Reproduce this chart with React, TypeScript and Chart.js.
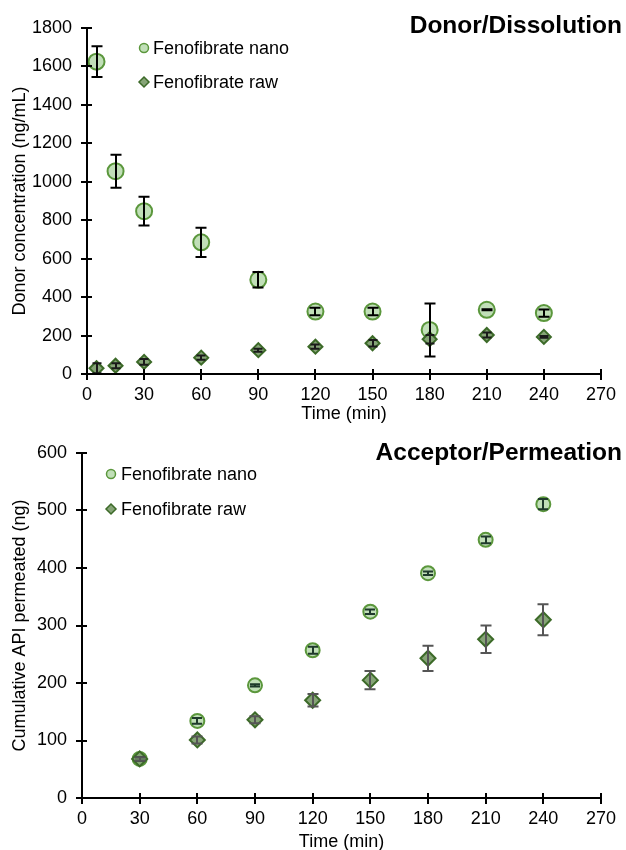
import React, { useEffect, useRef } from "react";
import { Chart, registerables } from "chart.js";

Chart.register(...registerables);

const FONT = "'Liberation Sans', Arial, Helvetica, sans-serif";

// ---- Donor / Dissolution ----
const donorTimes = [5, 15, 30, 60, 90, 120, 150, 180, 210, 240];
const donorNano = [1625, 1055, 847, 685, 490, 325, 325, 229, 334, 317];
const donorNanoErr = [80, 86, 75, 76, 40, 20, 20, 138, 3, 19];
const donorRaw = [30, 43, 63, 85, 124, 142, 160, 181, 203, 193];
const donorRawErr = [26, 13, 15, 11, 8, 11, 17, 22, 13, 5];

// ---- Acceptor / Permeation ----
const accTimes = [30, 60, 90, 120, 150, 180, 210, 240];
const accNano = [68, 134, 196, 257, 324, 391, 449, 511];
const accNanoErr = [3, 5, 2, 6, 4, 3, 6, 9];
const accRaw = [68, 101, 136, 170, 205, 243, 276, 310];
const accRawErr = [3, 6, 6, 11, 16, 22, 24, 27];

const xTickStep = 30;
const xMax = 270;

const seriesNames = ["Fenofibrate nano", "Fenofibrate raw"];

const NANO_FILL = "rgba(182, 217, 172, 0.85)";
const NANO_BORDER = "#5b973c";
const RAW_FILL = "#86a477";
const RAW_BORDER = "#3c6a28";

type Series = {
  x: number[];
  y: number[];
  err: number[];
  style: "circle" | "rectRot";
  radius: number;
  errColor: string;
  cap: number;
};

type Cfg = {
  title: string;
  yTitle: string;
  yMax: number;
  yStep: number;
  left: number;
  right: number;
  xHeight: number;
  top: number;
  yPad: number;
  xPad: number;
  xTitleY: number;
  titleY: number;
  legendX: number;
  legendTextX: number;
  legendY: number[];
  series: Series[];
};

function buildChart(canvas: HTMLCanvasElement, cfg: Cfg) {
  const datasets = cfg.series.map((s, i) => ({
    label: seriesNames[i],
    data: s.x.map((t, j) => ({ x: t, y: s.y[j] })),
    showLine: false,
    pointStyle: s.style,
    pointRadius: s.radius,
    pointBorderWidth: 2,
    pointBackgroundColor: s.style === "circle" ? NANO_FILL : RAW_FILL,
    pointBorderColor: s.style === "circle" ? NANO_BORDER : RAW_BORDER,
    order: s.style === "circle" ? 1 : 0,
  }));

  const custom = {
    id: "custom",
    afterDatasetsDraw(chart: any) {
      const ctx = chart.ctx;
      const xs = chart.scales.x;
      const ys = chart.scales.y;
      cfg.series.forEach((s) => {
        ctx.save();
        ctx.strokeStyle = s.errColor;
        ctx.lineWidth = 2;
        s.x.forEach((t, i) => {
          const px = Math.round(xs.getPixelForValue(t));
          const y1 = ys.getPixelForValue(s.y[i] - s.err[i]);
          const y2 = ys.getPixelForValue(s.y[i] + s.err[i]);
          ctx.beginPath();
          ctx.moveTo(px, y1);
          ctx.lineTo(px, y2);
          ctx.moveTo(px - s.cap, y1);
          ctx.lineTo(px + s.cap, y1);
          ctx.moveTo(px - s.cap, y2);
          ctx.lineTo(px + s.cap, y2);
          ctx.stroke();
        });
        ctx.restore();
      });
    },
    afterDraw(chart: any) {
      const ctx = chart.ctx;
      const { left, right, top, bottom } = chart.chartArea;
      const xs = chart.scales.x;
      const ys = chart.scales.y;
      ctx.save();
      ctx.strokeStyle = "#000";
      ctx.lineWidth = 2;
      ctx.beginPath();
      ctx.moveTo(left, top);
      ctx.lineTo(left, bottom);
      ctx.moveTo(left, bottom);
      ctx.lineTo(right, bottom);
      xs.ticks.forEach((t: any) => {
        const px = Math.round(xs.getPixelForValue(t.value));
        ctx.moveTo(px, bottom - 5);
        ctx.lineTo(px, bottom + 6);
      });
      ys.ticks.forEach((t: any) => {
        const py = Math.round(ys.getPixelForValue(t.value));
        ctx.moveTo(left - 6, py);
        ctx.lineTo(left + 5, py);
      });
      ctx.stroke();

      ctx.fillStyle = "#000";
      // chart title
      ctx.font = `bold 24.5px ${FONT}`;
      ctx.textAlign = "right";
      ctx.textBaseline = "middle";
      ctx.fillText(cfg.title, 622, cfg.titleY);

      // axis titles
      ctx.font = `18px ${FONT}`;
      ctx.textAlign = "center";
      ctx.fillText("Time (min)", (left + right) / 2, cfg.xTitleY);
      ctx.save();
      ctx.translate(20, (top + bottom) / 2);
      ctx.rotate(-Math.PI / 2);
      ctx.fillText(cfg.yTitle, 0, 0);
      ctx.restore();

      // legend
      ctx.font = `18px ${FONT}`;
      ctx.textAlign = "left";
      cfg.series.forEach((s, i) => {
        const cx = cfg.legendX;
        const cy = cfg.legendY[i];
        ctx.lineWidth = 1.5;
        ctx.beginPath();
        if (s.style === "circle") {
          ctx.arc(cx, cy, 4.5, 0, Math.PI * 2);
          ctx.fillStyle = NANO_FILL;
          ctx.strokeStyle = NANO_BORDER;
        } else {
          ctx.moveTo(cx, cy - 5);
          ctx.lineTo(cx + 5, cy);
          ctx.lineTo(cx, cy + 5);
          ctx.lineTo(cx - 5, cy);
          ctx.closePath();
          ctx.fillStyle = RAW_FILL;
          ctx.strokeStyle = RAW_BORDER;
        }
        ctx.fill();
        ctx.stroke();
        ctx.fillStyle = "#000";
        ctx.fillText(seriesNames[i], cfg.legendTextX, cy + 1);
      });
      ctx.restore();
    },
  };

  return new Chart(canvas, {
    type: "scatter",
    data: { datasets: datasets as any },
    options: {
      animation: false,
      responsive: false,
      maintainAspectRatio: false,
      layout: { padding: { top: cfg.top, right: cfg.right, bottom: 0, left: 0 } },
      plugins: {
        legend: { display: false },
        tooltip: { enabled: false },
        title: { display: false },
      },
      scales: {
        x: {
          type: "linear",
          min: 0,
          max: xMax,
          grid: { display: false, drawTicks: false },
          border: { display: false },
          ticks: {
            stepSize: xTickStep,
            color: "#000",
            padding: cfg.xPad,
            maxRotation: 0,
            font: { family: FONT, size: 18 },
            callback: (v: any) => String(v),
          },
          afterFit: (s: any) => {
            s.height = cfg.xHeight;
          },
        },
        y: {
          type: "linear",
          min: 0,
          max: cfg.yMax,
          grid: { display: false, drawTicks: false },
          border: { display: false },
          ticks: {
            stepSize: cfg.yStep,
            color: "#000",
            padding: cfg.yPad,
            font: { family: FONT, size: 18 },
            callback: (v: any) => String(v),
          },
          afterFit: (s: any) => {
            s.width = cfg.left;
          },
        },
      },
    },
    plugins: [custom as any],
  });
}

const topCfg: Cfg = {
  title: "Donor/Dissolution",
  yTitle: "Donor concentration (ng/mL)",
  yMax: 1800,
  yStep: 200,
  left: 87,
  right: 22,
  xHeight: 51,
  top: 28,
  yPad: 15,
  xPad: 10,
  xTitleY: 414,
  titleY: 26,
  legendX: 144,
  legendTextX: 153,
  legendY: [48, 82],
  series: [
    { x: donorTimes, y: donorNano, err: donorNanoErr, style: "circle", radius: 8, errColor: "#000", cap: 5.5 },
    { x: donorTimes, y: donorRaw, err: donorRawErr, style: "rectRot", radius: 7, errColor: "#1a1a1a", cap: 4.5 },
  ],
};

const bottomCfg: Cfg = {
  title: "Acceptor/Permeation",
  yTitle: "Cumulative API permeated (ng)",
  yMax: 600,
  yStep: 100,
  left: 82,
  right: 23,
  xHeight: 52,
  top: 28,
  yPad: 15,
  xPad: 10,
  xTitleY: 417,
  titleY: 28,
  legendX: 111,
  legendTextX: 121,
  legendY: [49, 84],
  series: [
    { x: accTimes, y: accNano, err: accNanoErr, style: "circle", radius: 7, errColor: "#1f3a2c", cap: 5 },
    { x: accTimes, y: accRaw, err: accRawErr, style: "rectRot", radius: 7.5, errColor: "#555555", cap: 5.5 },
  ],
};

function ChartCanvas({ cfg }: { cfg: Cfg }) {
  const ref = useRef<HTMLCanvasElement | null>(null);
  useEffect(() => {
    if (!ref.current) return;
    const chart = buildChart(ref.current, cfg);
    return () => chart.destroy();
  }, [cfg]);
  return <canvas ref={ref} width={626} height={425} style={{ display: "block", width: 626, height: 425 }} />;
}

export default function App() {
  return (
    <div style={{ position: "fixed", left: 0, top: 0, width: 626, height: 850, background: "#fff", overflow: "hidden" }}>
      <ChartCanvas cfg={topCfg} />
      <ChartCanvas cfg={bottomCfg} />
    </div>
  );
}
